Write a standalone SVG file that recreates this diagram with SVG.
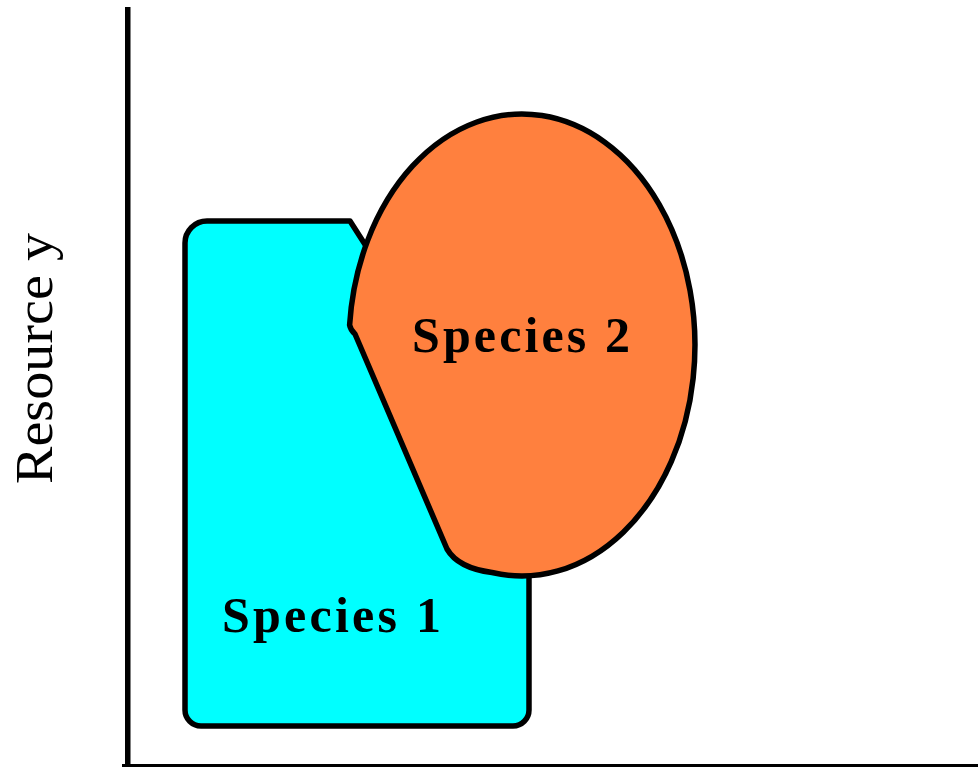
<svg xmlns="http://www.w3.org/2000/svg" width="978" height="767" viewBox="0 0 978 767">
<style>
.shape{stroke:#000;stroke-width:5.5;stroke-linejoin:round}
.lbl{font-family:"Liberation Serif","Times New Roman",serif;font-weight:bold;font-size:50px;fill:#000}
.axis-lbl{font-family:"Liberation Serif","Times New Roman",serif;font-size:53px;fill:#000}
</style>
<rect width="978" height="767" fill="#fff"/>
<g id="axes">
<rect x="125" y="7" width="5.5" height="760" fill="#000"/>
<rect x="122" y="764" width="856" height="4" fill="#000"/>
<text class="axis-lbl" transform="translate(52,484) rotate(-90)" textLength="251" lengthAdjust="spacingAndGlyphs">Resource y</text>
</g>
<g id="species1">
<path class="shape" fill="#00FFFF" d="M185,243 A22 22 0 0 1 207,221 H350 L366,246 L529,420 V710 A16 16 0 0 1 513,726 H201 A16 16 0 0 1 185,710 Z"/>
<text class="lbl" x="222" y="632" textLength="219" lengthAdjust="spacing">Species 1</text>
</g>
<g id="species2">
<path class="shape" fill="#FF803E" d="M349.6,325 A173 231 0 1 1 492,572.5 Q458,568 447,549 L355,334 Q350.5,330 349.6,325 Z"/>
<text class="lbl" x="412" y="352" textLength="218" lengthAdjust="spacing">Species 2</text>
</g>
</svg>
